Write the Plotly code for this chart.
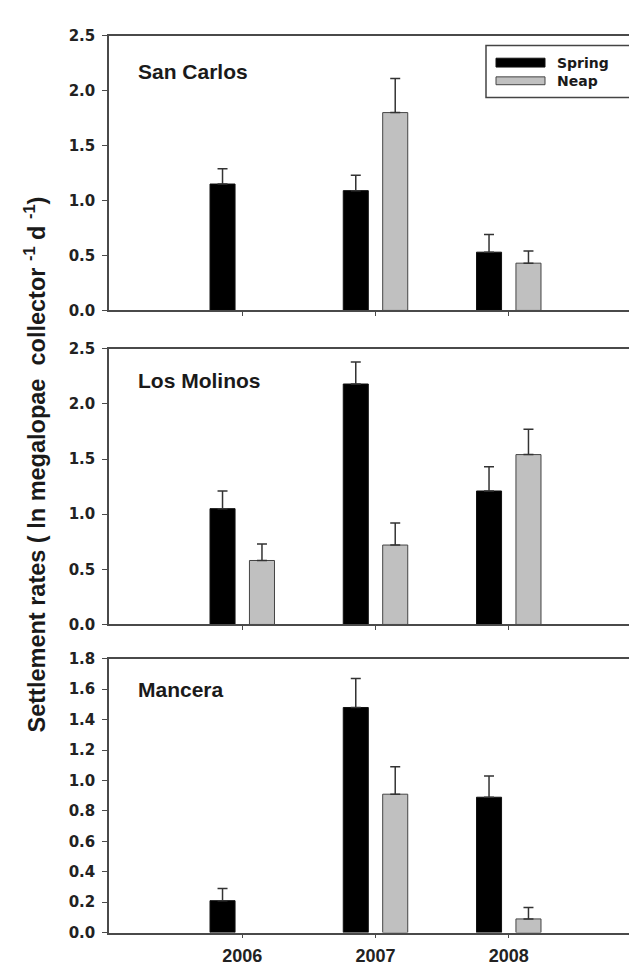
import plotly.graph_objects as go

# ---------------- data ----------------
years = ["2006", "2007", "2008"]
series_names = ["Spring", "Neap"]
sites = ["San Carlos", "Los Molinos", "Mancera"]

sc_spring = [1.15, 1.09, 0.53]
sc_spring_err = [0.14, 0.14, 0.16]
sc_neap = [None, 1.80, 0.43]
sc_neap_err = [0, 0.31, 0.11]

lm_spring = [1.05, 2.18, 1.21]
lm_spring_err = [0.16, 0.20, 0.22]
lm_neap = [0.58, 0.72, 1.54]
lm_neap_err = [0.15, 0.20, 0.23]

mc_spring = [0.21, 1.48, 0.89]
mc_spring_err = [0.08, 0.19, 0.14]
mc_neap = [None, 0.91, 0.09]
mc_neap_err = [0, 0.18, 0.075]

y_ranges = [[0, 2.5], [0, 2.5], [0, 1.8]]
y_dticks = [0.5, 0.5, 0.2]

panels = [
    (sc_spring, sc_spring_err, sc_neap, sc_neap_err),
    (lm_spring, lm_spring_err, lm_neap, lm_neap_err),
    (mc_spring, mc_spring_err, mc_neap, mc_neap_err),
]

# ---------------- styling ----------------
W, H = 637, 966
FONT = "Liberation Sans, Arial, sans-serif"
WIDE = "DejaVu Sans, Verdana, sans-serif"
AXC = "#4a4a4a"
SPRING_C = "#000000"
NEAP_C = "#c0c0c0"

def py(px):
    return 1 - px / H

def pxx(px):
    return px / W

y_domains = [[py(299), py(19)], [py(619), py(338)], [py(933), py(654)]]
x_domain = [pxx(101), pxx(634)]
title_y = [0.868, 0.886, 0.889]

fig = go.Figure()

for i, (sp, spe, ne, nee) in enumerate(panels):
    ax = "" if i == 0 else str(i + 1)
    fig.add_trace(go.Bar(
        x=years, y=sp, name=series_names[0], showlegend=False,
        marker=dict(color=SPRING_C, line=dict(color="#111", width=1)),
        error_y=dict(type="data", symmetric=False, array=spe,
                     arrayminus=[0] * len(spe), color="#333",
                     thickness=1.5, width=5),
        xaxis="x" + ax, yaxis="y" + ax,
    ))
    fig.add_trace(go.Bar(
        x=years, y=ne, name=series_names[1], showlegend=False,
        marker=dict(color=NEAP_C, line=dict(color="#444", width=1)),
        error_y=dict(type="data", symmetric=False, array=nee,
                     arrayminus=[0] * len(nee), color="#333",
                     thickness=1.5, width=5),
        xaxis="x" + ax, yaxis="y" + ax,
    ))

layout = dict(
    width=W, height=H,
    margin=dict(l=0, r=0, t=0, b=0),
    paper_bgcolor="white", plot_bgcolor="white",
    barmode="group", bargap=0.408, bargroupgap=0.365,
    font=dict(family=FONT, color="#222"),
    showlegend=False,
)

for i in range(3):
    ax = "" if i == 0 else str(i + 1)
    layout["xaxis" + ax] = dict(
        domain=x_domain, anchor="y" + ax, type="category",
        range=[-1, 3], showline=True, mirror=True, linecolor=AXC,
        linewidth=1.5, ticks="outside", ticklen=4, tickwidth=1,
        tickcolor=AXC, showgrid=False, zeroline=False,
        showticklabels=(i == 2),
        tickfont=dict(family=FONT, size=18, color="#222", weight="bold"),
        ticklabelstandoff=2,
    )
    layout["yaxis" + ax] = dict(
        domain=y_domains[i], anchor="x" + ax, range=y_ranges[i],
        dtick=y_dticks[i], tick0=0, tickformat=".1f",
        showline=True, mirror=True, linecolor=AXC, linewidth=1.5,
        ticks="outside", ticklen=5, tickwidth=1, tickcolor=AXC,
        showgrid=False, zeroline=False,
        tickfont=dict(family=WIDE, size=15, color="#222", weight="bold"),
        ticklabelstandoff=4,
    )

fig.update_layout(**layout)

annotations = []
for i in range(3):
    ax = "" if i == 0 else str(i + 1)
    annotations.append(dict(
        text=sites[i], xref="x" + ax + " domain", yref="y" + ax + " domain",
        x=0.05, y=title_y[i], xanchor="left", yanchor="middle",
        showarrow=False,
        font=dict(family=FONT, size=21, color="#1a1a1a", weight="bold"),
    ))

annotations.append(dict(
    text="Settlement rates ( ln megalopae  collector <sup>-1</sup> d <sup>-1</sup>)",
    xref="paper", yref="paper", x=pxx(27), y=py(456), textangle=-90,
    xanchor="center", yanchor="middle", showarrow=False,
    font=dict(family=FONT, size=23.5, color="#1a1a1a", weight="bold"),
))

# legend (custom, to mimic wide flat swatches)
shapes = [
    dict(type="rect", xref="paper", yref="paper", x0=pxx(478), x1=pxx(625),
         y0=py(82), y1=py(29), line=dict(color="#444", width=1.5),
         fillcolor="white", layer="above"),
    dict(type="rect", xref="paper", yref="paper", x0=pxx(488), x1=pxx(537),
         y0=py(51), y1=py(42), line=dict(color="#111", width=1),
         fillcolor=SPRING_C, layer="above"),
    dict(type="rect", xref="paper", yref="paper", x0=pxx(488), x1=pxx(537),
         y0=py(69), y1=py(61), line=dict(color="#444", width=1),
         fillcolor=NEAP_C, layer="above"),
]
for name, yy in zip(series_names, [47, 65]):
    annotations.append(dict(
        text=name, xref="paper", yref="paper", x=pxx(547), y=py(yy),
        xanchor="left", yanchor="middle", showarrow=False,
        font=dict(family=WIDE, size=14, color="#1a1a1a", weight="bold"),
    ))

fig.update_layout(annotations=annotations, shapes=shapes)

fig.write_html("out.html")
